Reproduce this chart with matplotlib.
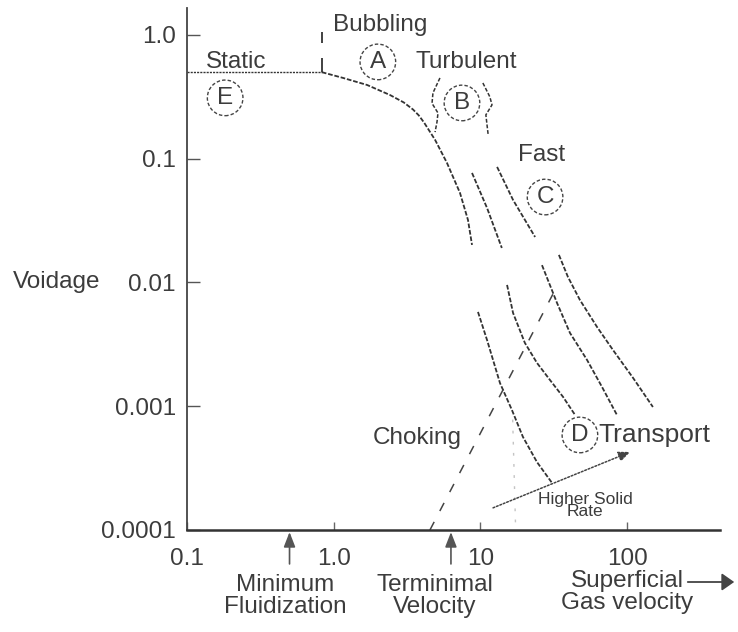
import matplotlib
matplotlib.use("Agg")
import matplotlib.pyplot as plt

plt.rcParams['font.family'] = ['Liberation Sans', 'DejaVu Sans']

# ---- axis ticks ----
x_ticks = [0.1, 1.0, 10, 100]
x_tick_labels = ["0.1", "1.0", "10", "100"]
y_ticks = [1.0, 0.1, 0.01, 0.001, 0.0001]
y_tick_labels = ["1.0", "0.1", "0.01", "0.001", "0.0001"]

# ---- regime boundaries (gas velocity, voidage) ----
static_u = [0.1, 0.83]
static_eps = [0.5, 0.5]

bubbling_u = [0.83, 1.16, 1.69, 2.42, 3.0, 3.47, 3.8, 4.13, 4.91, 5.92, 7.26, 8.23, 8.77]
bubbling_eps = [0.5, 0.449, 0.394, 0.327, 0.285, 0.250, 0.224, 0.196, 0.142, 0.0924, 0.0529, 0.032, 0.0201]

bubbling_mark_u = [0.83, 0.83]
bubbling_mark_eps = [[0.5, 0.65], [0.86, 1.06]]

fast1_u = [8.77, 11.1, 14.0]
fast1_eps = [0.0767, 0.040, 0.019]
fast2_u = [13.0, 16.7, 23.6]
fast2_eps = [0.0858, 0.0464, 0.0233]

transport_u = [
    [9.63, 11.1, 13.6, 16.4, 19.5, 24.3, 30.8],
    [15.2, 16.7, 20.1, 24.3, 29.8, 36.6, 44.2],
    [26.3, 33.3, 40.8, 53.3, 67.5, 85.3],
    [34.3, 39.5, 47.7, 62.4, 80.1, 110.0, 150.0],
]
transport_eps = [
    [0.00578, 0.00343, 0.00154, 0.000933, 0.000565, 0.000354, 0.000240],
    [0.00955, 0.00567, 0.00325, 0.00224, 0.00163, 0.00119, 0.00085],
    [0.0138, 0.00683, 0.00391, 0.00237, 0.00143, 0.00085],
    [0.0167, 0.0111, 0.00722, 0.00437, 0.00285, 0.00169, 0.000986],
]

choking_u = [4.53, 32.3]
choking_eps = [0.0001, 0.0087]

faint_u = [16.6, 17.4]
faint_eps = [0.00078, 0.0001]

solid_rate_u = [12.2, 105.0]
solid_rate_eps = [0.000151, 0.000427]

brace_left_u = [5.30, 4.75, 4.68, 5.14, 5.06, 4.91]
brace_left_eps = [0.449, 0.340, 0.280, 0.234, 0.198, 0.164]
brace_right_u = [10.4, 11.6, 12.0, 10.9, 11.1, 11.3]
brace_right_eps = [0.409, 0.316, 0.272, 0.226, 0.187, 0.156]

# ---- region letters and labels ----
circle_letters = ["A", "B", "C", "D", "E"]
circle_u = [2.0, 7.49, 27.6, 47.7, 0.182]
circle_eps = [0.605, 0.282, 0.049, 0.000586, 0.31]

velocity_marks = [0.5, 6.3]
velocity_labels = ["Minimum\nFluidization", "Terminimal\nVelocity"]
velocity_label_u = [0.47, 4.91]

INK = "#333333"
TXT = "#3c3c3c"
FS = 17.5

fig = plt.figure(figsize=(7.38, 6.32), dpi=100)
W, H = 738, 632
ax = fig.add_axes([187 / W, 1 - 530 / H, (720 - 187) / W, (530 - 8) / H])
ax.set_xscale("log")
ax.set_yscale("log")
ax.set_xlim(0.1, 430)
ax.set_ylim(0.0001, 1.65)

for side in ("top", "right"):
    ax.spines[side].set_visible(False)
ax.spines["left"].set_color("#444444")
ax.spines["left"].set_linewidth(1.3)
ax.spines["bottom"].set_color("#333333")
ax.spines["bottom"].set_linewidth(1.8)

ax.set_xticks(x_ticks)
ax.set_xticklabels(x_tick_labels)
ax.set_yticks(y_ticks)
ax.set_yticklabels(y_tick_labels)
ax.minorticks_off()
ax.tick_params(axis="x", direction="in", length=6, width=1, color="#666666",
               pad=13, labelsize=FS, labelcolor=TXT)
ax.tick_params(axis="y", direction="in", length=9, width=1, color="#555555",
               pad=8, labelsize=FS, labelcolor=TXT)

dash = (0, (2.6, 1.0))
ax.plot(static_u, static_eps, color=INK, lw=1.0, ls=(0, (1.5, 0.8)))
ax.plot(bubbling_u, bubbling_eps, color=INK, lw=1.3, ls=dash)
for seg in bubbling_mark_eps:
    ax.plot(bubbling_mark_u, seg, color=INK, lw=1.3, solid_capstyle="butt")
ax.plot(fast1_u, fast1_eps, color=INK, lw=1.3, ls=dash)
ax.plot(fast2_u, fast2_eps, color=INK, lw=1.3, ls=dash)
for us, es in zip(transport_u, transport_eps):
    ax.plot(us, es, color=INK, lw=1.3, ls=dash)
ax.plot(choking_u, choking_eps, color="#444444", lw=1.1, ls=(0, (6, 8)))
ax.plot(faint_u, faint_eps, color="#c4c4c4", lw=1.0, ls=(0, (2, 6)))
ax.plot(brace_left_u, brace_left_eps, color=INK, lw=1.1, ls=(0, (2.5, 1.2)))
ax.plot(brace_right_u, brace_right_eps, color=INK, lw=1.1, ls=(0, (2.5, 1.2)))

# higher solid rate arrow
ax.annotate("", xy=(solid_rate_u[1], solid_rate_eps[1]),
            xytext=(solid_rate_u[0], solid_rate_eps[0]),
            arrowprops=dict(arrowstyle="-|>,head_length=0.7,head_width=0.3",
                            color="#444444", lw=1.1, ls=(0, (1.2, 1.2)),
                            shrinkA=0, shrinkB=0))

# circled region letters
for letter, u, e in zip(circle_letters, circle_u, circle_eps):
    ax.text(u, e, letter, fontsize=FS, color=TXT, ha="center", va="center",
            bbox=dict(boxstyle="circle,pad=0.28", fc="none", ec="#444444",
                      lw=1.0, ls=(0, (2.5, 1.5))))

# regime names
ax.text(0.216, 0.605, "Static", fontsize=FS, color=TXT, ha="center", va="center")
ax.text(2.07, 1.2, "Bubbling", fontsize=FS, color=TXT, ha="center", va="center")
ax.text(7.98, 0.605, "Turbulent", fontsize=FS, color=TXT, ha="center", va="center")
ax.text(26.3, 0.107, "Fast", fontsize=FS, color=TXT, ha="center", va="center")
ax.text(7.49, 0.00055, "Choking", fontsize=FS, color=TXT, ha="right", va="center")
ax.text(64, 0.000586, "Transport", fontsize=19, color=TXT, ha="left", va="center")
ax.text(51.6, 0.000158, "Higher Solid\nRate", fontsize=12.5, color=TXT,
        ha="center", va="center", linespacing=0.75)

# Voidage axis title
ax.text(-0.245, 0.01, "Voidage", fontsize=FS, color=TXT, ha="center", va="center",
        transform=ax.get_yaxis_transform())

# velocity markers beneath the axis
for u in velocity_marks:
    ax.annotate("", xy=(u, -0.004), xycoords=("data", "axes fraction"),
                xytext=(u, -0.065), textcoords=("data", "axes fraction"),
                arrowprops=dict(arrowstyle="-|>,head_length=0.9,head_width=0.35",
                                color="#555555", lw=1.2, shrinkA=0, shrinkB=0),
                annotation_clip=False)
for lab, u in zip(velocity_labels, velocity_label_u):
    ax.text(u, -0.127, lab, fontsize=FS, color=TXT, ha="center", va="center",
            transform=ax.get_xaxis_transform(), linespacing=1.0)

ax.text(100, -0.118, "Superficial\nGas velocity", fontsize=FS, color=TXT,
        ha="center", va="center", transform=ax.get_xaxis_transform(),
        linespacing=1.0)
fig.patches.append(matplotlib.patches.FancyArrowPatch(
    (685 / W, 1 - 582 / H), (737 / W, 1 - 582 / H), transform=fig.transFigure,
    arrowstyle="-|>,head_length=5,head_width=3.5", color="#444444", lw=1.3,
    mutation_scale=1.5))

fig.savefig("out.png", dpi=100, facecolor="white")
